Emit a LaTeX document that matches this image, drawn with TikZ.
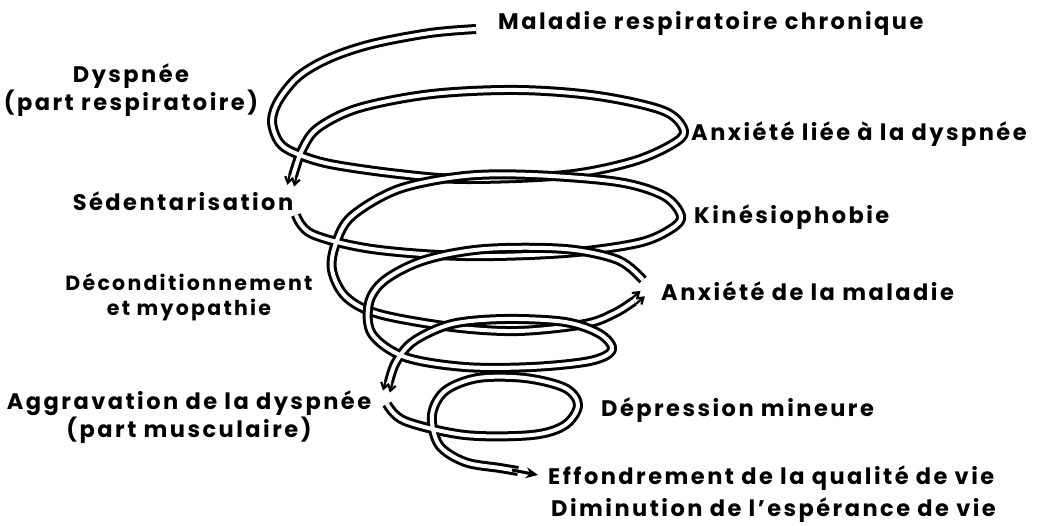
\documentclass[tikz,border=0pt]{standalone}
\usepackage{fontspec}
\setmainfont{Poppins}[LetterSpace=11]
\usetikzlibrary{arrows.meta}

\tikzset{
  ribbon/.style={double=white, double distance=4pt, line width=3pt, line join=round},
  twin/.style={-{Straight Barb[length=6pt,width=8pt]}, line width=2.2pt},
  lbl/.style={font=\bfseries\fontsize{22.5}{26}\selectfont, inner sep=0pt, align=center},
}

\begin{document}
\begin{tikzpicture}[x=1pt, y=-1pt]
    \useasboundingbox (0,0) rectangle (1037,526);

    % Spiral, first turn
    \draw[ribbon] plot[smooth, tension=0.55] coordinates {
        (476,29) (430,33) (372,44) (330,58) (299,76) (279,100) (272,121) (279,142) (295,153)
        (330,164) (399,174) (465,179) (565,175) (631,162) (671,145) (684,131) (664,111)
        (598,96) (518,90) (432,94) (359,108) (318,128) (302,150) (293,176)};
    \draw[twin] (296.4,176.9) -- (294.1,186.6);
    \draw[twin] (289.6,175.1) -- (287.3,184.8);

    % Spiral, second turn
    \draw[ribbon] plot[smooth, tension=0.55] coordinates {
        (296,215) (312,234) (372,249) (465,256) (565,253) (638,243) (671,229) (681,216)
        (664,196) (618,182) (532,175) (465,176) (399,189) (352,216) (336,243) (332,270)
        (346,297) (379,314) (452,327) (518,331) (585,324) (615,313) (634,301)};
    \draw[twin] (636.2,303.7) -- (644.9,296.3);
    \draw[twin] (631.8,298.3) -- (640.5,290.9);

    % Spiral, third turn
    \draw[ribbon] plot[smooth, tension=0.55] coordinates {
        (643,280) (618,260) (565,249) (485,249) (425,260) (385,280) (369,303) (372,334)
        (405,357) (465,367) (532,367) (590,361) (612,350) (600,334) (565,322) (505,319)
        (452,324) (414,341) (396,362) (389,382)};
    \draw[twin] (392.4,383) -- (389.8,392.6);
    \draw[twin] (385.6,381) -- (383,390.6);

    % Spiral, last turn and tail
    \draw[ribbon] plot[smooth, tension=0.55] coordinates {
        (387,404) (405,421) (465,435) (532,435) (565,425) (578,405) (565,388) (525,378)
        (478,378) (445,391) (432,415) (439,445) (465,462) (500,468) (518,471)};
    \draw[-{Stealth[length=12pt,width=11pt]}, line width=3pt] (512,470) -- (538,475);

    % Labels
    \node[lbl, anchor=west] (maladie) at (498,23) {Maladie respiratoire chronique};
    \node[lbl] (dyspnee) at (131,90) {Dyspnée\\(part respiratoire)};
    \node[lbl] (sedent) at (183,201) {Sédentarisation};
    \node[lbl, font=\bfseries\fontsize{20.5}{25}\selectfont] (decond) at (189,297) {Déconditionnement\\et myopathie};
    \node[lbl] (aggrav) at (189,417) {Aggravation de la dyspnée\\(part musculaire)};
    \node[lbl, anchor=west] (anxliee) at (691,134) {Anxiété liée à la dyspnée};
    \node[lbl, anchor=west] (kinesio) at (694,217) {Kinésiophobie};
    \node[lbl, anchor=west] (anxmal) at (661,291) {Anxiété de la maladie};
    \node[lbl, anchor=west] (depress) at (601,410) {Dépression mineure};
    \node[lbl, anchor=west] (effond) at (548,478) {Effondrement de la qualité de vie};
    \node[lbl, anchor=west] (diminu) at (551,510) {Diminution de l’espérance de vie};
\end{tikzpicture}
\end{document}
